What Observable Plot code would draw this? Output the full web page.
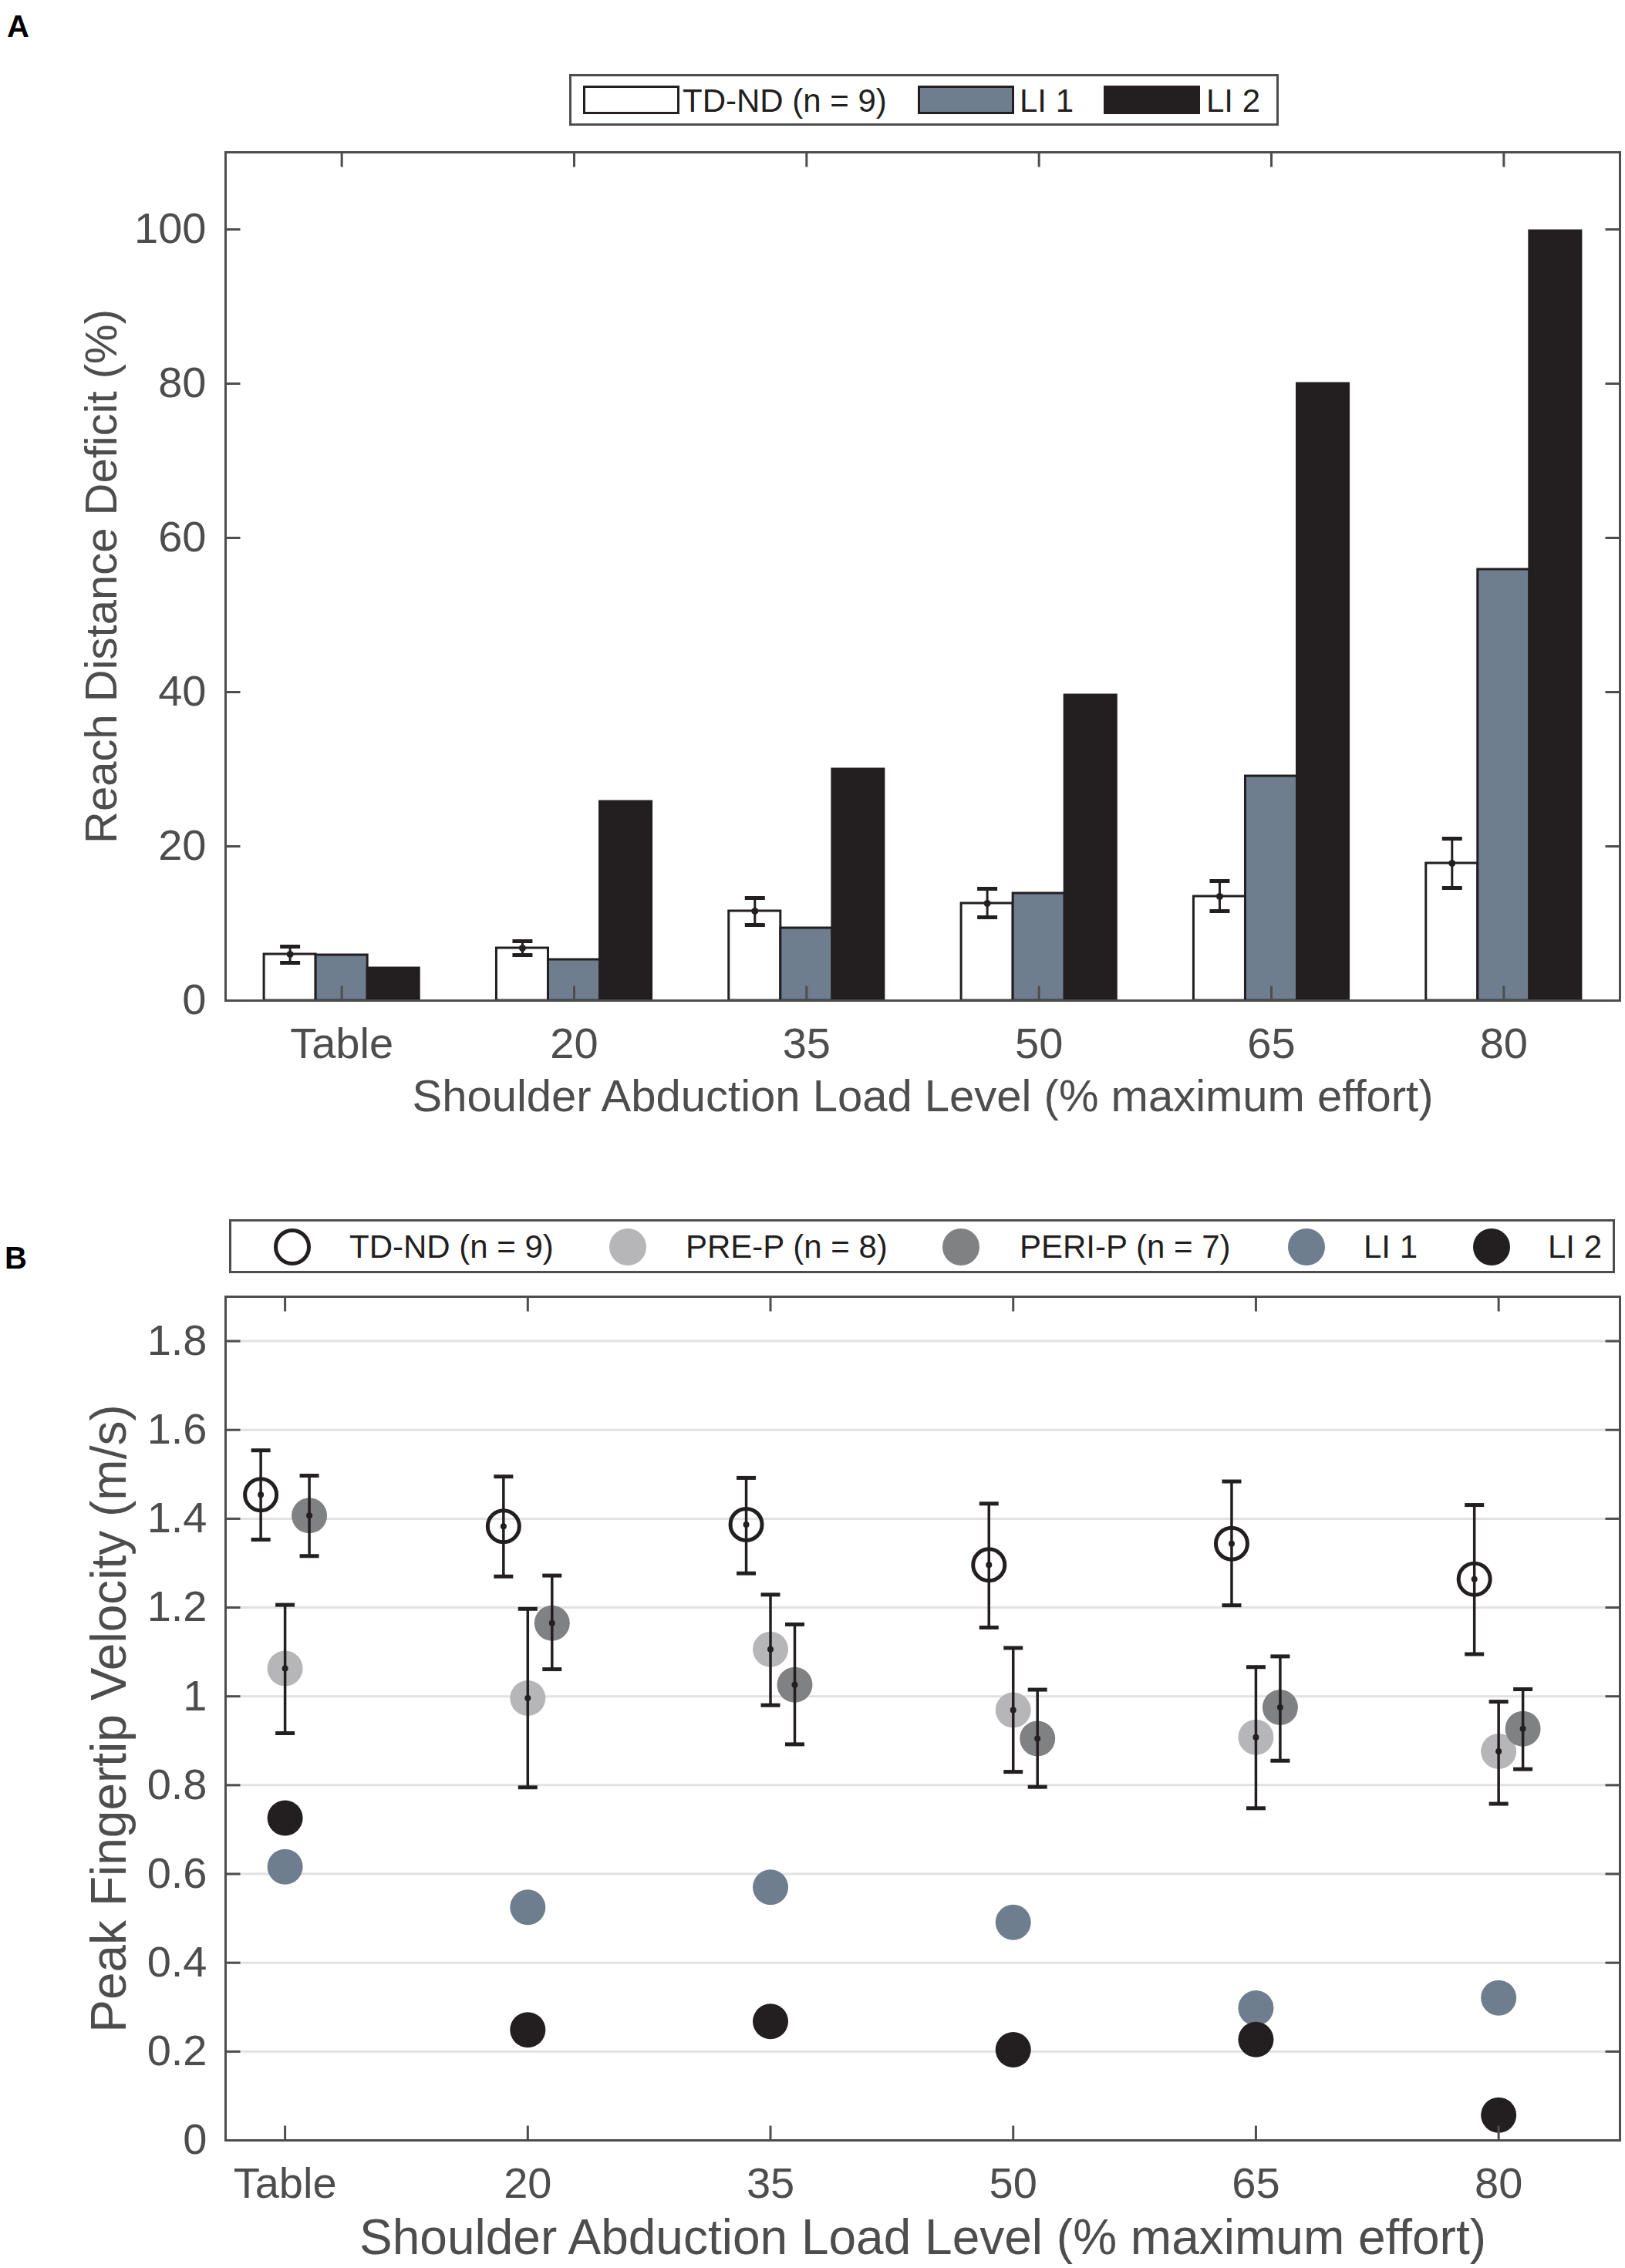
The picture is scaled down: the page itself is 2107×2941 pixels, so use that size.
<!DOCTYPE html>
<html><head><meta charset="utf-8">
<script src="https://cdn.jsdelivr.net/npm/d3@7"></script>
<script src="https://cdn.jsdelivr.net/npm/@observablehq/plot@0.6"></script>
<style>
html,body{margin:0;padding:0;background:#fff;overflow:hidden;}
#page{position:relative;width:2107px;height:2941px;font-family:"Liberation Sans",Arial,Helvetica,sans-serif;}
.abs{position:absolute;}
.panel-label{position:absolute;font-weight:bold;font-size:40px;line-height:1;color:#000;}
.legend{position:absolute;border:3px solid #4d4d4d;box-sizing:border-box;background:#fff;}
.lg-text{position:absolute;font-size:42px;line-height:1;color:#231f20;white-space:nowrap;}
.swatch{position:absolute;box-sizing:border-box;border:3px solid #231f20;}
.lg-dot{position:absolute;box-sizing:border-box;border-radius:50%;}
</style></head>
<body><div id="page">
<div class="panel-label" style="left:9px;top:14px;">A</div>
<div class="panel-label" style="left:6px;top:1611px;">B</div>
<div id="chartA" class="abs" style="left:0;top:0;"></div>
<div id="chartB" class="abs" style="left:0;top:1500px;"></div>
</div>
<script>
// ---------- data ----------
const loadLevels = ["Table", "20", "35", "50", "65", "80"];
const xLabel = "Shoulder Abduction Load Level (% maximum effort)";

// Panel A: Reach distance deficit (%)
const reachTD     = [6.0, 6.8, 11.6, 12.6, 13.5, 17.8];
const reachTDLow  = [4.9, 5.9, 9.8, 10.8, 11.6, 14.6];
const reachTDHigh = [7.0, 7.7, 13.3, 14.5, 15.5, 21.0];
const reachLI1    = [5.9, 5.3, 9.4, 13.9, 29.1, 55.9];
const reachLI2    = [4.2, 25.8, 30.0, 39.6, 80.0, 99.8];
const reachTicks  = [0, 20, 40, 60, 80, 100];
const legendALabels = ["TD-ND (n = 9)", "LI 1", "LI 2"];

// Panel B: Peak fingertip velocity (m/s)
const velTD       = [1.454, 1.383, 1.387, 1.296, 1.344, 1.264];
const velTDLow    = [1.353, 1.270, 1.277, 1.155, 1.205, 1.095];
const velTDHigh   = [1.554, 1.495, 1.492, 1.434, 1.484, 1.431];
const velPRE      = [1.063, 0.996, 1.106, 0.969, 0.908, 0.876];
const velPRELow   = [0.917, 0.795, 0.980, 0.830, 0.748, 0.758];
const velPREHigh  = [1.206, 1.197, 1.229, 1.109, 1.066, 0.988];
const velPERI     = [1.407, 1.165, 1.026, 0.905, 0.975, 0.927];
const velPERILow  = [1.316, 1.061, 0.892, 0.796, 0.855, 0.836];
const velPERIHigh = [1.497, 1.272, 1.162, 1.015, 1.090, 1.016];
const velLI1      = [0.616, 0.525, 0.570, 0.491, 0.298, 0.321];
const velLI2      = [0.726, 0.249, 0.268, 0.204, 0.227, 0.057];
const velTicks    = [0, 0.2, 0.4, 0.6, 0.8, 1, 1.2, 1.4, 1.6, 1.8];
const legendBLabels = ["TD-ND (n = 9)", "PRE-P (n = 8)", "PERI-P (n = 7)", "LI 1", "LI 2"];

// ---------- style ----------
const FONT = '"Liberation Sans", Arial, Helvetica, sans-serif';
const AX = "#4d4d4d";
const INK = "#231f20";
const C_LI1 = "#6e7e8f";
const C_PRE = "#b6b6b8";
const C_PERI = "#808183";
const GRID = "#e2e2e2";

const lineSym = (ax, ay, bx, by) => ({
  draw(ctx, size) {
    const r = Math.sqrt(size / Math.PI);
    ctx.moveTo(ax * r, ay * r);
    ctx.lineTo(bx * r, by * r);
  }
});
const tickRight = lineSym(0, 0, 1, 0);
const tickLeft = lineSym(0, 0, -1, 0);
const tickUp = lineSym(0, 0, 0, -1);
const tickDown = lineSym(0, 0, 0, 1);
const hbar = lineSym(-1, 0, 1, 0);

function frameTicks(xt, yt) {
  const o = {stroke: AX, strokeWidth: 3, fill: "none", r: 19};
  return [
    Plot.dot(yt, {...o, y: d => d, frameAnchor: "left", symbol: tickRight}),
    Plot.dot(yt, {...o, y: d => d, frameAnchor: "right", symbol: tickLeft}),
    Plot.dot(xt, {...o, x: d => d, frameAnchor: "bottom", symbol: tickUp}),
    Plot.dot(xt, {...o, x: d => d, frameAnchor: "top", symbol: tickDown})
  ];
}
const catIdx = loadLevels.map((_, i) => i + 1);

// ---------- Panel A ----------
const rowsA = loadLevels.map((lvl, i) => ({
  i: i + 1, td: reachTD[i], lo: reachTDLow[i], hi: reachTDHigh[i], li1: reachLI1[i], li2: reachLI2[i]
}));
const W = 0.2225; // bar width (x units)
const barOpts = {y1: 0, stroke: INK, strokeWidth: 3};
const chartA = Plot.plot({
  width: 2107, height: 1470,
  marginLeft: 292, marginRight: 7, marginTop: 197, marginBottom: 173,
  style: {fontFamily: FONT, background: "transparent"},
  x: {domain: [0.5, 6.5], axis: null},
  y: {domain: [0, 110], axis: null},
  marks: [
    Plot.rectY(rowsA, {...barOpts, x1: d => d.i - 1.5 * W, x2: d => d.i - 0.5 * W, y2: "td", fill: "white"}),
    Plot.rectY(rowsA, {...barOpts, x1: d => d.i - 0.5 * W, x2: d => d.i + 0.5 * W, y2: "li1", fill: C_LI1}),
    Plot.rectY(rowsA, {...barOpts, x1: d => d.i + 0.5 * W, x2: d => d.i + 1.5 * W, y2: "li2", fill: INK}),
    Plot.ruleX(rowsA, {x: d => d.i - W, y1: "lo", y2: "hi", stroke: INK, strokeWidth: 3}),
    Plot.dot(rowsA, {x: d => d.i - W, y: "lo", symbol: hbar, r: 13, stroke: INK, strokeWidth: 5, fill: "none"}),
    Plot.dot(rowsA, {x: d => d.i - W, y: "hi", symbol: hbar, r: 13, stroke: INK, strokeWidth: 5, fill: "none"}),
    Plot.dot(rowsA, {x: d => d.i - W, y: "td", r: 4.5, fill: INK}),
    Plot.frame({stroke: AX, strokeWidth: 3}),
    ...frameTicks(catIdx, reachTicks),
    Plot.text(reachTicks, {y: d => d, text: d => String(d), frameAnchor: "left", textAnchor: "end", dx: -25, fontSize: 56, fill: AX}),
    Plot.text(loadLevels, {x: (d, i) => i + 1, text: d => d, frameAnchor: "bottom", lineAnchor: "bottom", dy: 74, fontSize: 56, fill: AX}),
    Plot.text([xLabel], {text: d => d, frameAnchor: "bottom", textAnchor: "middle", lineAnchor: "bottom", dy: 143, fontSize: 58, fill: AX}),
    Plot.text(["Reach Distance Deficit (%)"], {text: d => d, frameAnchor: "left", textAnchor: "middle", lineAnchor: "bottom", rotate: -90, dx: -142, fontSize: 58, fill: AX})
  ]
});
document.getElementById("chartA").append(chartA);

// ---------- Panel B ----------
const rowsB = loadLevels.map((lvl, i) => ({
  i: i + 1,
  td: velTD[i], tdLo: velTDLow[i], tdHi: velTDHigh[i],
  pre: velPRE[i], preLo: velPRELow[i], preHi: velPREHigh[i],
  peri: velPERI[i], periLo: velPERILow[i], periHi: velPERIHigh[i],
  li1: velLI1[i], li2: velLI2[i]
}));
const OFF = 0.1;
function errMarks(xf, lo, hi, mid) {
  return [
    Plot.ruleX(rowsB, {x: xf, y1: lo, y2: hi, stroke: INK, strokeWidth: 3.5}),
    Plot.dot(rowsB, {x: xf, y: lo, symbol: hbar, r: 12.5, stroke: INK, strokeWidth: 5, fill: "none"}),
    Plot.dot(rowsB, {x: xf, y: hi, symbol: hbar, r: 12.5, stroke: INK, strokeWidth: 5, fill: "none"}),
    Plot.dot(rowsB, {x: xf, y: mid, r: 4, fill: INK})
  ];
}
const xTD = d => d.i - OFF, xPRE = d => d.i, xPERI = d => d.i + OFF;
const chartB = Plot.plot({
  width: 2107, height: 1441,
  marginLeft: 292, marginRight: 7, marginTop: 181, marginBottom: 166,
  style: {fontFamily: FONT, background: "transparent"},
  x: {domain: [0.755, 6.5], axis: null},
  y: {domain: [0, 1.9], axis: null},
  marks: [
    Plot.ruleY(velTicks.filter(d => d > 0), {y: d => d, stroke: GRID, strokeWidth: 3}),
    Plot.dot(rowsB, {x: xPRE, y: "pre", r: 23, fill: C_PRE}),
    Plot.dot(rowsB, {x: xPERI, y: "peri", r: 23, fill: C_PERI}),
    Plot.dot(rowsB, {x: xPRE, y: "li1", r: 23, fill: C_LI1}),
    Plot.dot(rowsB, {x: xPRE, y: "li2", r: 23, fill: INK}),
    Plot.dot(rowsB, {x: xTD, y: "td", r: 20.5, fill: "none", stroke: INK, strokeWidth: 5}),
    ...errMarks(xTD, "tdLo", "tdHi", "td"),
    ...errMarks(xPRE, "preLo", "preHi", "pre"),
    ...errMarks(xPERI, "periLo", "periHi", "peri"),
    Plot.frame({stroke: AX, strokeWidth: 3}),
    ...frameTicks(catIdx, velTicks),
    Plot.text(velTicks, {y: d => d, text: d => String(d), frameAnchor: "left", textAnchor: "end", dx: -24, fontSize: 56, fill: AX}),
    Plot.text(loadLevels, {x: (d, i) => i + 1, text: d => d, frameAnchor: "bottom", lineAnchor: "bottom", dy: 74, fontSize: 56, fill: AX}),
    Plot.text([xLabel], {text: d => d, frameAnchor: "bottom", textAnchor: "middle", lineAnchor: "bottom", dy: 147, fontSize: 64, fill: AX}),
    Plot.text(["Peak Fingertip Velocity (m/s)"], {text: d => d, frameAnchor: "left", textAnchor: "middle", lineAnchor: "bottom", rotate: -90, dx: -130, fontSize: 64, fill: AX})
  ]
});
document.getElementById("chartB").append(chartB);

// ---------- Legends (HTML) ----------
const page = document.getElementById("page");
function add(cls, style, text) {
  const el = document.createElement("div");
  el.className = cls;
  Object.assign(el.style, style);
  if (text != null) el.textContent = text;
  page.append(el);
  return el;
}
// Legend A
add("legend", {left: "738px", top: "96px", width: "920px", height: "67px"});
const swA = [{left: 756, fill: "#fff"}, {left: 1190, fill: C_LI1}, {left: 1431, fill: INK}];
const txA = [885, 1322, 1564];
legendALabels.forEach((lab, k) => {
  add("swatch", {left: swA[k].left + "px", top: "111px", width: "125px", height: "37px", background: swA[k].fill});
  add("lg-text", {left: txA[k] + "px", top: "110px"}, lab);
});
// Legend B
add("legend", {left: "297px", top: "1581px", width: "1797px", height: "70px"});
const dotB = [
  {cx: 379, fill: "#fff", border: "5px solid " + INK},
  {cx: 814, fill: C_PRE}, {cx: 1246, fill: C_PERI}, {cx: 1694, fill: C_LI1}, {cx: 1934, fill: INK}
];
const txB = [453, 889, 1322, 1768, 2007];
legendBLabels.forEach((lab, k) => {
  const d = dotB[k];
  add("lg-dot", {left: (d.cx - 24) + "px", top: (1617 - 24) + "px", width: "48px", height: "48px",
    background: d.fill, border: d.border || "none"});
  add("lg-text", {left: txB[k] + "px", top: "1596px"}, lab);
});
</script>
</body></html>
